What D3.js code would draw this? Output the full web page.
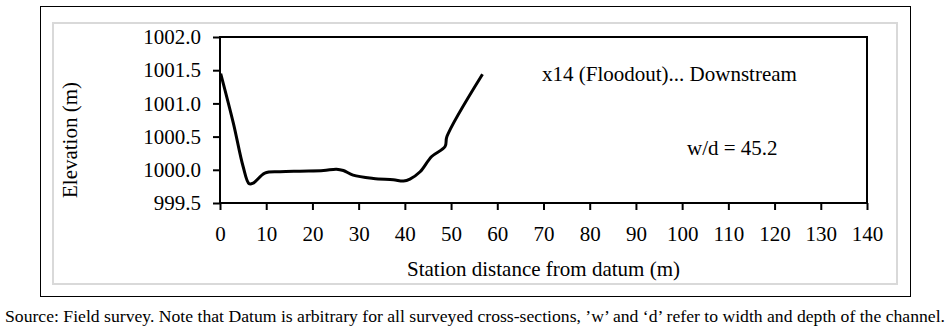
<!DOCTYPE html>
<html>
<head>
<meta charset="utf-8">
<script src="https://cdn.jsdelivr.net/npm/d3@7"></script>
<style>
  body { margin: 0; background: #fff; }
  svg text { font-family: "Liberation Serif", "Times New Roman", serif; fill: #000; }
</style>
</head>
<body>
<div id="chart"></div>
<script>
// Querprofil x14 (Floodout) - Messpunkte
const stations   = [0.15, 2.9, 5.0, 6.3, 7.2, 9.7, 13, 17.3, 22.4, 25.2, 26.7, 28.8, 33.2, 37.5, 39.7, 41.1, 43.3, 45.8, 48.7, 49.1, 56.8];
const elevations = [1001.45, 1000.70, 1000.05, 999.79, 999.80, 999.95, 999.97, 999.98, 999.99, 1000.01, 999.99, 999.92, 999.87, 999.85, 999.83, 999.86, 999.97, 1000.20, 1000.35, 1000.50, 1001.44];
const xTicks = d3.range(0, 141, 10);
const yTicks = [999.5, 1000.0, 1000.5, 1001.0, 1001.5, 1002.0];
const title = "x14 (Floodout)... Downstream";
const ratioLabel = "w/d = 45.2";
const caption = "Source: Field survey. Note that Datum is arbitrary for all surveyed cross-sections, \u2019w\u2019 and \u2018d\u2019 refer to width and depth of the channel.";

const width = 951, height = 333;
const plot = { left: 220, top: 37, right: 867, bottom: 203 };

const svg = d3.select("#chart").append("svg")
    .attr("width", width)
    .attr("height", height);

// Rahmen
svg.append("rect")
    .attr("x", 40.5).attr("y", 6.5).attr("width", 870).attr("height", 290)
    .attr("fill", "none").attr("stroke", "#000").attr("stroke-width", 1);
svg.append("rect")
    .attr("x", 53).attr("y", 23).attr("width", 844).attr("height", 261)
    .attr("fill", "none").attr("stroke", "#d9d9d9").attr("stroke-width", 2);

const x = d3.scaleLinear().domain([0, 140]).range([plot.left, plot.right]);
const y = d3.scaleLinear().domain([999.5, 1002]).range([plot.bottom, plot.top]);

// Achsen
const xAxis = svg.append("g")
    .attr("transform", `translate(0,${plot.bottom})`)
    .call(d3.axisBottom(x).tickValues(xTicks).tickSize(7).tickPadding(16).tickSizeOuter(0));
const yAxis = svg.append("g")
    .attr("transform", `translate(${plot.left},0)`)
    .call(d3.axisLeft(y).tickValues(yTicks).tickFormat(d3.format(".1f")).tickSize(7).tickPadding(12).tickSizeOuter(0));

[xAxis, yAxis].forEach(a => {
    a.select(".domain").remove();
    a.selectAll("line").attr("stroke", "#000").attr("stroke-width", 2);
    a.selectAll("text").style("font-size", "21px").style("font-family", "Liberation Serif");
});

// Plotrahmen
svg.append("rect")
    .attr("x", plot.left).attr("y", plot.top)
    .attr("width", plot.right - plot.left).attr("height", plot.bottom - plot.top)
    .attr("fill", "none").attr("stroke", "#000").attr("stroke-width", 2);

// Profil-Linie
const line = d3.line()
    .x((d, i) => x(stations[i]))
    .y(d => y(d))
    .curve(d3.curveCatmullRom.alpha(0.5));

svg.append("path")
    .datum(elevations)
    .attr("d", line)
    .attr("fill", "none")
    .attr("stroke", "#000")
    .attr("stroke-width", 3)
    .attr("stroke-linejoin", "round");

// Beschriftungen
svg.append("text")
    .attr("x", (plot.left + plot.right) / 2).attr("y", 276)
    .attr("text-anchor", "middle")
    .style("font-size", "21px")
    .text("Station distance from datum (m)");

svg.append("text")
    .attr("transform", "translate(77,140) rotate(-90)")
    .attr("text-anchor", "middle")
    .style("font-size", "21px")
    .text("Elevation (m)");

svg.append("text")
    .attr("x", 542).attr("y", 81)
    .style("font-size", "21px")
    .text(title);

svg.append("text")
    .attr("x", 687).attr("y", 155)
    .style("font-size", "21px")
    .text(ratioLabel);

svg.append("text")
    .attr("x", 5).attr("y", 322)
    .attr("textLength", 940)
    .attr("lengthAdjust", "spacingAndGlyphs")
    .style("font-size", "17px")
    .text(caption);
</script>
</body>
</html>
